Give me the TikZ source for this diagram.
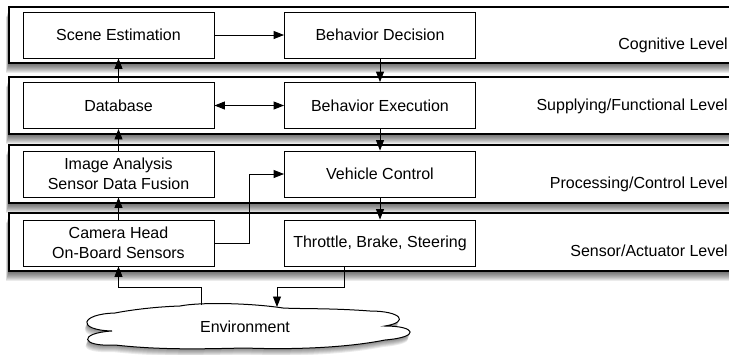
\documentclass[tikz,border=0pt]{standalone}
\usepackage{fontspec}
\setmainfont{Liberation Sans}
\usetikzlibrary{arrows.meta}
\newcommand\dfont{\fontsize{16}{19.5}\selectfont}
\tikzset{
  band/.style={draw=black, line width=1.2pt, fill=white},
  box/.style={draw=black, line width=0.9pt, fill=white, minimum width=191pt,
    minimum height=46pt, inner sep=0pt, align=center},
  arr/.style={line width=0.9pt, -{Triangle[length=10.5pt,width=8pt]}},
  dblarr/.style={line width=0.9pt, {Triangle[length=10.5pt,width=8pt]}-{Triangle[length=10.5pt,width=8pt]}},
  lvl/.style={anchor=base east, inner sep=0pt},
  cloudline/.style={draw=black, line width=1pt, fill=white}
}
\newcommand\bandshadow[2]{%
  \foreach \k in {1,...,10} {\fill[black,opacity=0.08] ({9-0.3*\k},{#1+\k}) rectangle (745,{#2+\k});}}
\def\cloudpath{(115,313) .. controls (80,314) and (76,330) .. (112,331)
  .. controls (78,333) and (80,347) .. (115,345)
  .. controls (160,350) and (200,349) .. (245,348)
  .. controls (300,350) and (350,347) .. (385,340)
  .. controls (421,337) and (416,326) .. (385,326)
  .. controls (410,322) and (401,311) .. (370,311)
  .. controls (330,308) and (300,309) .. (283,308)
  .. controls (250,303) and (200,302) .. (180,306)
  .. controls (150,307) and (125,311) .. (115,313) -- cycle}
\begin{document}
\begin{tikzpicture}[x=1pt,y=-1pt,font=\dfont]
\useasboundingbox (0,0) rectangle (729,354);
% level bands
\bandshadow{7}{63}
\draw[band] (9,7) rectangle (745,63);
\bandshadow{77}{134}
\draw[band] (9,77) rectangle (745,134);
\bandshadow{145}{203}
\draw[band] (9,145) rectangle (745,203);
\bandshadow{213}{271}
\draw[band] (9,213) rectangle (745,271);
% level labels
\node[lvl] (l1) at (728,49) {Cognitive Level};
\node[lvl] (l2) at (728,110) {Supplying/Functional Level};
\node[lvl] (l3) at (728,188) {Processing/Control Level};
\node[lvl] (l4) at (728,256) {Sensor/Actuator Level};
% boxes
\node[box] (scene) at (118.5,35) {Scene Estimation};
\node[box] (bdec) at (380,35) {Behavior Decision};
\node[box] (db) at (118.5,105.5) {Database};
\node[box] (bexe) at (380,105.5) {Behavior Execution};
\node[box] (img) at (118.5,174) {Image Analysis\\Sensor Data Fusion};
\node[box] (veh) at (380,174) {Vehicle Control};
\node[box] (cam) at (118.5,243) {Camera Head\\On-Board Sensors};
\node[box] (thr) at (380,243) {Throttle, Brake, Steering};
% cloud
\foreach \k in {1,...,7} {\fill[black,opacity=0.08,shift={(-0.3*\k,\k)}] \cloudpath;}
\draw[cloudline] \cloudpath;
\node (env) at (245,327) {Environment};
\coordinate (e1) at (201,305);
\coordinate (e2) at (277,307);
% connectors
\draw[arr] (scene) -- (bdec);
\draw[dblarr] (db) -- (bexe);
\draw[arr] (db) -- (scene);
\draw[arr] (img) -- (db);
\draw[arr] (cam) -- (img);
\draw[arr] (bdec) -- (bexe);
\draw[arr] (bexe) -- (veh);
\draw[arr] (veh) -- (thr);
\draw[arr] (cam.east) -- ++(35,0) |- (veh.west);
\draw[arr] (e1) -- ++(0,-18) -| (cam.south);
\draw[arr] ([xshift=-36pt]thr.south) -- ++(0,21) -| (e2);
\end{tikzpicture}
\end{document}
